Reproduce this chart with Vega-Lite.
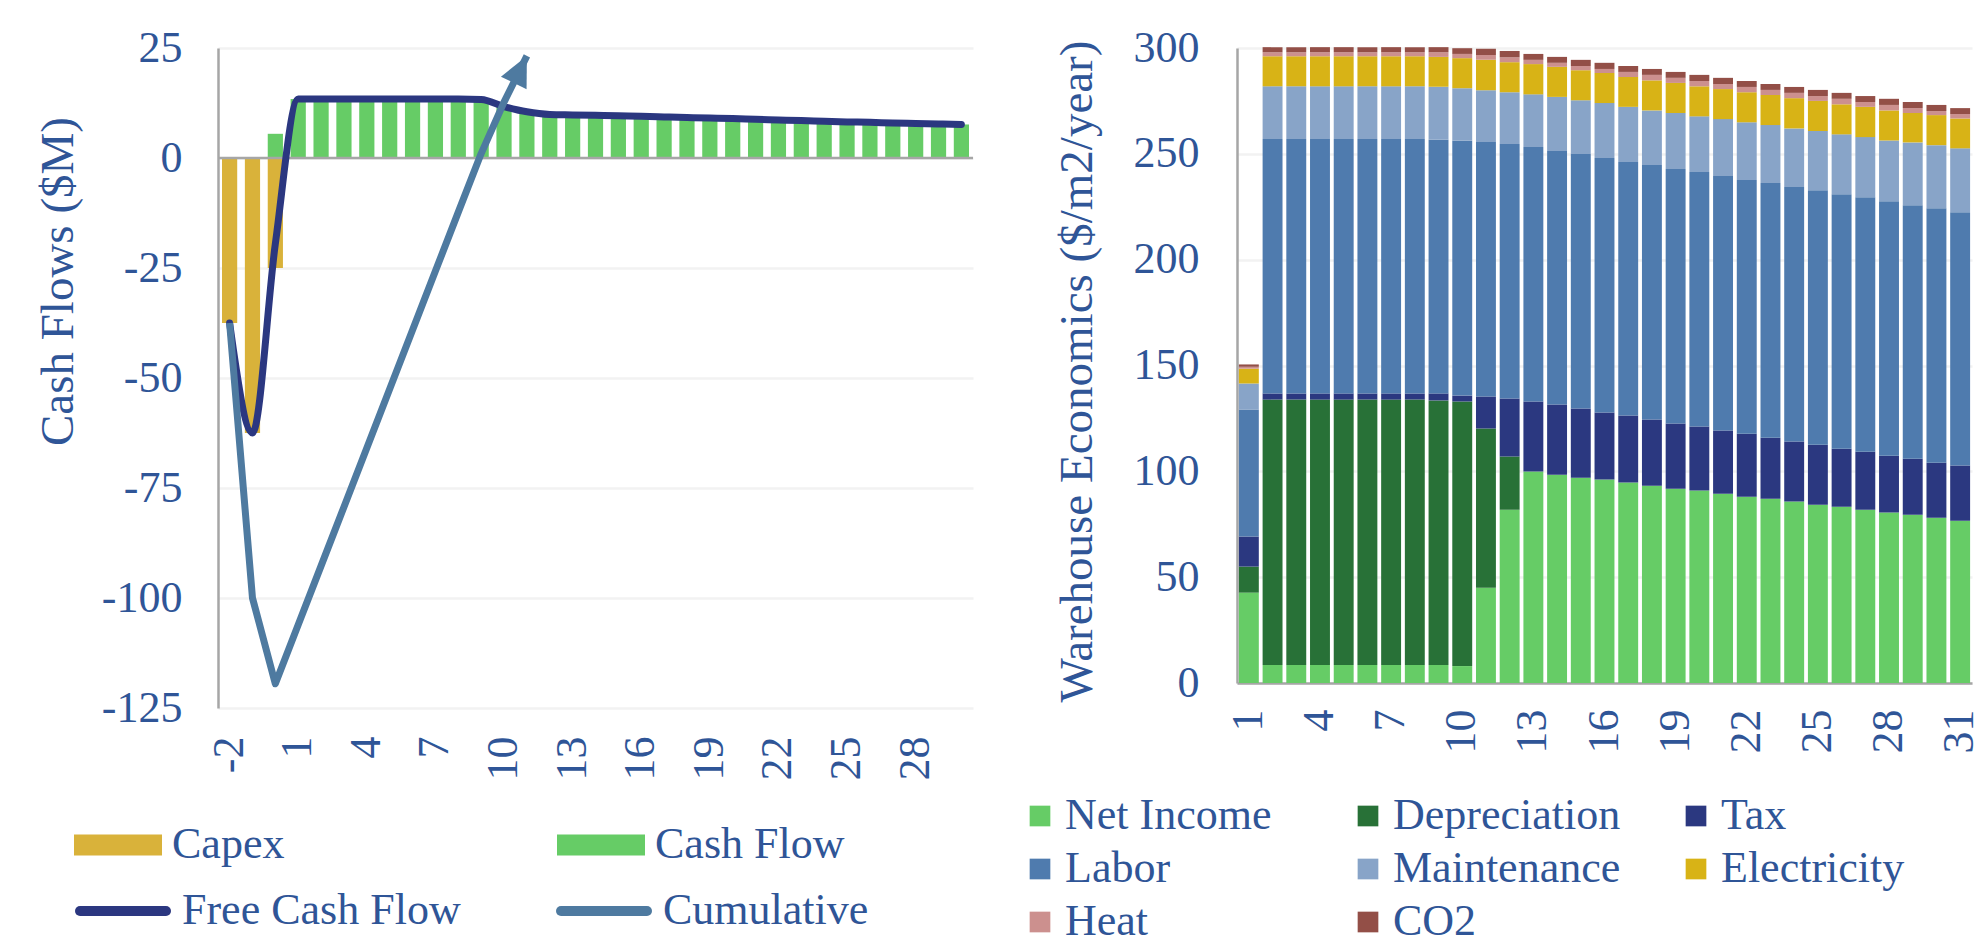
{
"$schema": "https://vega.github.io/schema/vega-lite/v6.json",
"autosize": {"type": "none"},
"padding": {"left": 218, "top": 48, "right": 1767, "bottom": 902},
"background": "white",
"bounds": "flush",
"spacing": 264,
"resolve": {"scale": {"color": "independent", "stroke": "independent"}, "legend": {"color": "independent", "stroke": "independent"}},
"config": {
  "view": {"stroke": null},
  "font": "Liberation Serif",
  "axis": {"labelFont": "Liberation Serif", "labelFontSize": 44, "labelColor": "#2F5597", "titleFont": "Liberation Serif", "titleFontSize": 47, "titleColor": "#2F5597", "titleFontWeight": "normal", "ticks": false, "gridColor": "#F2F2F2", "gridWidth": 2.5, "domainColor": "#A6A6A6", "domainWidth": 2.5},
  "legend": {"labelFont": "Liberation Serif", "labelFontSize": 44, "labelColor": "#2F5597", "padding": 0, "labelLimit": 0}
},
"datasets": {
  "cashbars": [
    {"yr": -2, "s": "Capex", "v": -37.5}, {"yr": -1, "s": "Capex", "v": -62.5}, {"yr": 0, "s": "Capex", "v": -25},
    {"yr": 0, "s": "Cash Flow", "v": 5.5}, {"yr": 1, "s": "Cash Flow", "v": 13.4}, {"yr": 2, "s": "Cash Flow", "v": 13.4}, {"yr": 3, "s": "Cash Flow", "v": 13.4}, {"yr": 4, "s": "Cash Flow", "v": 13.4}, {"yr": 5, "s": "Cash Flow", "v": 13.4}, {"yr": 6, "s": "Cash Flow", "v": 13.4}, {"yr": 7, "s": "Cash Flow", "v": 13.4}, {"yr": 8, "s": "Cash Flow", "v": 13.4}, {"yr": 9, "s": "Cash Flow", "v": 13.3}, {"yr": 10, "s": "Cash Flow", "v": 11.7}, {"yr": 11, "s": "Cash Flow", "v": 10.5}, {"yr": 12, "s": "Cash Flow", "v": 9.9}, {"yr": 13, "s": "Cash Flow", "v": 9.8}, {"yr": 14, "s": "Cash Flow", "v": 9.7}, {"yr": 15, "s": "Cash Flow", "v": 9.58}, {"yr": 16, "s": "Cash Flow", "v": 9.48}, {"yr": 17, "s": "Cash Flow", "v": 9.33}, {"yr": 18, "s": "Cash Flow", "v": 9.19}, {"yr": 19, "s": "Cash Flow", "v": 9.09}, {"yr": 20, "s": "Cash Flow", "v": 8.97}, {"yr": 21, "s": "Cash Flow", "v": 8.8}, {"yr": 22, "s": "Cash Flow", "v": 8.65}, {"yr": 23, "s": "Cash Flow", "v": 8.5}, {"yr": 24, "s": "Cash Flow", "v": 8.33}, {"yr": 25, "s": "Cash Flow", "v": 8.2}, {"yr": 26, "s": "Cash Flow", "v": 8.1}, {"yr": 27, "s": "Cash Flow", "v": 7.95}, {"yr": 28, "s": "Cash Flow", "v": 7.85}, {"yr": 29, "s": "Cash Flow", "v": 7.75}, {"yr": 30, "s": "Cash Flow", "v": 7.62}
  ],
  "cashlines": [
    {"yr": -2, "s": "Free Cash Flow", "v": -37.5}, {"yr": -1, "s": "Free Cash Flow", "v": -62.5}, {"yr": 0, "s": "Free Cash Flow", "v": -19.5}, {"yr": 1, "s": "Free Cash Flow", "v": 13.4}, {"yr": 2, "s": "Free Cash Flow", "v": 13.4}, {"yr": 3, "s": "Free Cash Flow", "v": 13.4}, {"yr": 4, "s": "Free Cash Flow", "v": 13.4}, {"yr": 5, "s": "Free Cash Flow", "v": 13.4}, {"yr": 6, "s": "Free Cash Flow", "v": 13.4}, {"yr": 7, "s": "Free Cash Flow", "v": 13.4}, {"yr": 8, "s": "Free Cash Flow", "v": 13.4}, {"yr": 9, "s": "Free Cash Flow", "v": 13.3}, {"yr": 10, "s": "Free Cash Flow", "v": 11.7}, {"yr": 11, "s": "Free Cash Flow", "v": 10.5}, {"yr": 12, "s": "Free Cash Flow", "v": 9.9}, {"yr": 13, "s": "Free Cash Flow", "v": 9.8}, {"yr": 14, "s": "Free Cash Flow", "v": 9.7}, {"yr": 15, "s": "Free Cash Flow", "v": 9.58}, {"yr": 16, "s": "Free Cash Flow", "v": 9.48}, {"yr": 17, "s": "Free Cash Flow", "v": 9.33}, {"yr": 18, "s": "Free Cash Flow", "v": 9.19}, {"yr": 19, "s": "Free Cash Flow", "v": 9.09}, {"yr": 20, "s": "Free Cash Flow", "v": 8.97}, {"yr": 21, "s": "Free Cash Flow", "v": 8.8}, {"yr": 22, "s": "Free Cash Flow", "v": 8.65}, {"yr": 23, "s": "Free Cash Flow", "v": 8.5}, {"yr": 24, "s": "Free Cash Flow", "v": 8.33}, {"yr": 25, "s": "Free Cash Flow", "v": 8.2}, {"yr": 26, "s": "Free Cash Flow", "v": 8.1}, {"yr": 27, "s": "Free Cash Flow", "v": 7.95}, {"yr": 28, "s": "Free Cash Flow", "v": 7.85}, {"yr": 29, "s": "Free Cash Flow", "v": 7.75}, {"yr": 30, "s": "Free Cash Flow", "v": 7.62},
    {"yr": -2, "s": "Cumulative", "v": -37.5}, {"yr": -1, "s": "Cumulative", "v": -100}, {"yr": 0, "s": "Cumulative", "v": -119.5}, {"yr": 1, "s": "Cumulative", "v": -106.1}, {"yr": 2, "s": "Cumulative", "v": -92.7}, {"yr": 3, "s": "Cumulative", "v": -79.3}, {"yr": 4, "s": "Cumulative", "v": -65.9}, {"yr": 5, "s": "Cumulative", "v": -52.5}, {"yr": 6, "s": "Cumulative", "v": -39.1}, {"yr": 7, "s": "Cumulative", "v": -25.7}, {"yr": 8, "s": "Cumulative", "v": -12.3}, {"yr": 9, "s": "Cumulative", "v": 1.0}, {"yr": 10, "s": "Cumulative", "v": 12.7}, {"yr": 11, "s": "Cumulative", "v": 23.2}
  ],
  "zero": [{"z": 0}],
  "stackorder": [{"s": "Net Income", "k": 1}, {"s": "Depreciation", "k": 2}, {"s": "Tax", "k": 3}, {"s": "Labor", "k": 4}, {"s": "Maintenance", "k": 5}, {"s": "Electricity", "k": 6}, {"s": "Heat", "k": 7}, {"s": "CO2", "k": 8}],
  "econ": [
    {"yr":1,"s":"Net Income","v":42.7},{"yr":1,"s":"Depreciation","v":12.3},{"yr":1,"s":"Tax","v":14.2},{"yr":1,"s":"Labor","v":60.0},{"yr":1,"s":"Maintenance","v":12.3},{"yr":1,"s":"Electricity","v":7.0},{"yr":1,"s":"Heat","v":0.9},{"yr":1,"s":"CO2","v":1.1},
    {"yr":2,"s":"Net Income","v":8.5},{"yr":2,"s":"Depreciation","v":125.4},{"yr":2,"s":"Tax","v":2.9},{"yr":2,"s":"Labor","v":120.2},{"yr":2,"s":"Maintenance","v":24.9},{"yr":2,"s":"Electricity","v":14.2},{"yr":2,"s":"Heat","v":1.9},{"yr":2,"s":"CO2","v":2.4},
    {"yr":3,"s":"Net Income","v":8.5},{"yr":3,"s":"Depreciation","v":125.4},{"yr":3,"s":"Tax","v":2.9},{"yr":3,"s":"Labor","v":120.2},{"yr":3,"s":"Maintenance","v":24.9},{"yr":3,"s":"Electricity","v":14.2},{"yr":3,"s":"Heat","v":1.9},{"yr":3,"s":"CO2","v":2.4},
    {"yr":4,"s":"Net Income","v":8.5},{"yr":4,"s":"Depreciation","v":125.4},{"yr":4,"s":"Tax","v":2.9},{"yr":4,"s":"Labor","v":120.2},{"yr":4,"s":"Maintenance","v":24.9},{"yr":4,"s":"Electricity","v":14.2},{"yr":4,"s":"Heat","v":1.9},{"yr":4,"s":"CO2","v":2.4},
    {"yr":5,"s":"Net Income","v":8.5},{"yr":5,"s":"Depreciation","v":125.4},{"yr":5,"s":"Tax","v":2.9},{"yr":5,"s":"Labor","v":120.2},{"yr":5,"s":"Maintenance","v":24.9},{"yr":5,"s":"Electricity","v":14.2},{"yr":5,"s":"Heat","v":1.9},{"yr":5,"s":"CO2","v":2.4},
    {"yr":6,"s":"Net Income","v":8.5},{"yr":6,"s":"Depreciation","v":125.4},{"yr":6,"s":"Tax","v":2.9},{"yr":6,"s":"Labor","v":120.2},{"yr":6,"s":"Maintenance","v":24.9},{"yr":6,"s":"Electricity","v":14.2},{"yr":6,"s":"Heat","v":1.9},{"yr":6,"s":"CO2","v":2.4},
    {"yr":7,"s":"Net Income","v":8.5},{"yr":7,"s":"Depreciation","v":125.4},{"yr":7,"s":"Tax","v":2.9},{"yr":7,"s":"Labor","v":120.2},{"yr":7,"s":"Maintenance","v":24.9},{"yr":7,"s":"Electricity","v":14.2},{"yr":7,"s":"Heat","v":1.9},{"yr":7,"s":"CO2","v":2.4},
    {"yr":8,"s":"Net Income","v":8.5},{"yr":8,"s":"Depreciation","v":125.4},{"yr":8,"s":"Tax","v":2.9},{"yr":8,"s":"Labor","v":120.2},{"yr":8,"s":"Maintenance","v":24.9},{"yr":8,"s":"Electricity","v":14.2},{"yr":8,"s":"Heat","v":1.9},{"yr":8,"s":"CO2","v":2.4},
    {"yr":9,"s":"Net Income","v":8.5},{"yr":9,"s":"Depreciation","v":125.0},{"yr":9,"s":"Tax","v":3.3},{"yr":9,"s":"Labor","v":119.8},{"yr":9,"s":"Maintenance","v":25.1},{"yr":9,"s":"Electricity","v":14.1},{"yr":9,"s":"Heat","v":2.2},{"yr":9,"s":"CO2","v":2.4},
    {"yr":10,"s":"Net Income","v":8.0},{"yr":10,"s":"Depreciation","v":125.0},{"yr":10,"s":"Tax","v":2.8},{"yr":10,"s":"Labor","v":120.4},{"yr":10,"s":"Maintenance","v":24.8},{"yr":10,"s":"Electricity","v":14.2},{"yr":10,"s":"Heat","v":2.0},{"yr":10,"s":"CO2","v":2.7},
    {"yr":11,"s":"Net Income","v":45.0},{"yr":11,"s":"Depreciation","v":75.2},{"yr":11,"s":"Tax","v":15.2},{"yr":11,"s":"Labor","v":120.2},{"yr":11,"s":"Maintenance","v":24.4},{"yr":11,"s":"Electricity","v":14.4},{"yr":11,"s":"Heat","v":2.3},{"yr":11,"s":"CO2","v":2.9},
    {"yr":12,"s":"Net Income","v":81.9},{"yr":12,"s":"Depreciation","v":25.1},{"yr":12,"s":"Tax","v":27.4},{"yr":12,"s":"Labor","v":120.2},{"yr":12,"s":"Maintenance","v":24.5},{"yr":12,"s":"Electricity","v":14.2},{"yr":12,"s":"Heat","v":2.3},{"yr":12,"s":"CO2","v":3.0},
    {"yr":13,"s":"Net Income","v":99.9},{"yr":13,"s":"Tax","v":33.1},{"yr":13,"s":"Labor","v":120.2},{"yr":13,"s":"Maintenance","v":24.9},{"yr":13,"s":"Electricity","v":14.3},{"yr":13,"s":"Heat","v":2.0},{"yr":13,"s":"CO2","v":2.8},
    {"yr":14,"s":"Net Income","v":98.4},{"yr":14,"s":"Tax","v":33.2},{"yr":14,"s":"Labor","v":119.7},{"yr":14,"s":"Maintenance","v":25.6},{"yr":14,"s":"Electricity","v":14.2},{"yr":14,"s":"Heat","v":1.9},{"yr":14,"s":"CO2","v":2.8},
    {"yr":15,"s":"Net Income","v":97.0},{"yr":15,"s":"Tax","v":32.7},{"yr":15,"s":"Labor","v":120.2},{"yr":15,"s":"Maintenance","v":25.4},{"yr":15,"s":"Electricity","v":14.2},{"yr":15,"s":"Heat","v":2.0},{"yr":15,"s":"CO2","v":2.9},
    {"yr":16,"s":"Net Income","v":96.1},{"yr":16,"s":"Tax","v":31.7},{"yr":16,"s":"Labor","v":120.2},{"yr":16,"s":"Maintenance","v":26.0},{"yr":16,"s":"Electricity","v":14.2},{"yr":16,"s":"Heat","v":1.9},{"yr":16,"s":"CO2","v":2.9},
    {"yr":17,"s":"Net Income","v":94.7},{"yr":17,"s":"Tax","v":31.7},{"yr":17,"s":"Labor","v":119.7},{"yr":17,"s":"Maintenance","v":26.1},{"yr":17,"s":"Electricity","v":14.1},{"yr":17,"s":"Heat","v":2.4},{"yr":17,"s":"CO2","v":2.8},
    {"yr":18,"s":"Net Income","v":93.2},{"yr":18,"s":"Tax","v":31.3},{"yr":18,"s":"Labor","v":120.2},{"yr":18,"s":"Maintenance","v":25.8},{"yr":18,"s":"Electricity","v":14.2},{"yr":18,"s":"Heat","v":2.6},{"yr":18,"s":"CO2","v":2.8},
    {"yr":19,"s":"Net Income","v":91.8},{"yr":19,"s":"Tax","v":30.8},{"yr":19,"s":"Labor","v":120.2},{"yr":19,"s":"Maintenance","v":26.5},{"yr":19,"s":"Electricity","v":14.2},{"yr":19,"s":"Heat","v":2.4},{"yr":19,"s":"CO2","v":2.8},
    {"yr":20,"s":"Net Income","v":90.9},{"yr":20,"s":"Tax","v":30.3},{"yr":20,"s":"Labor","v":120.2},{"yr":20,"s":"Maintenance","v":26.3},{"yr":20,"s":"Electricity","v":14.2},{"yr":20,"s":"Heat","v":2.5},{"yr":20,"s":"CO2","v":2.9},
    {"yr":21,"s":"Net Income","v":89.4},{"yr":21,"s":"Tax","v":29.9},{"yr":21,"s":"Labor","v":120.2},{"yr":21,"s":"Maintenance","v":26.9},{"yr":21,"s":"Electricity","v":14.2},{"yr":21,"s":"Heat","v":2.4},{"yr":21,"s":"CO2","v":2.9},
    {"yr":22,"s":"Net Income","v":88.0},{"yr":22,"s":"Tax","v":29.8},{"yr":22,"s":"Labor","v":119.8},{"yr":22,"s":"Maintenance","v":27.3},{"yr":22,"s":"Electricity","v":14.2},{"yr":22,"s":"Heat","v":2.5},{"yr":22,"s":"CO2","v":2.8},
    {"yr":23,"s":"Net Income","v":87.1},{"yr":23,"s":"Tax","v":28.8},{"yr":23,"s":"Labor","v":120.3},{"yr":23,"s":"Maintenance","v":27.4},{"yr":23,"s":"Electricity","v":14.2},{"yr":23,"s":"Heat","v":2.4},{"yr":23,"s":"CO2","v":2.8},
    {"yr":24,"s":"Net Income","v":85.7},{"yr":24,"s":"Tax","v":28.4},{"yr":24,"s":"Labor","v":120.2},{"yr":24,"s":"Maintenance","v":27.7},{"yr":24,"s":"Electricity","v":14.3},{"yr":24,"s":"Heat","v":2.5},{"yr":24,"s":"CO2","v":2.8},
    {"yr":25,"s":"Net Income","v":84.2},{"yr":25,"s":"Tax","v":28.4},{"yr":25,"s":"Labor","v":120.2},{"yr":25,"s":"Maintenance","v":28.0},{"yr":25,"s":"Electricity","v":14.2},{"yr":25,"s":"Heat","v":2.3},{"yr":25,"s":"CO2","v":2.9},
    {"yr":26,"s":"Net Income","v":83.3},{"yr":26,"s":"Tax","v":27.4},{"yr":26,"s":"Labor","v":120.2},{"yr":26,"s":"Maintenance","v":28.3},{"yr":26,"s":"Electricity","v":14.2},{"yr":26,"s":"Heat","v":2.6},{"yr":26,"s":"CO2","v":2.8},
    {"yr":27,"s":"Net Income","v":81.9},{"yr":27,"s":"Tax","v":27.4},{"yr":27,"s":"Labor","v":120.2},{"yr":27,"s":"Maintenance","v":28.4},{"yr":27,"s":"Electricity","v":14.3},{"yr":27,"s":"Heat","v":2.3},{"yr":27,"s":"CO2","v":2.8},
    {"yr":28,"s":"Net Income","v":80.5},{"yr":28,"s":"Tax","v":26.9},{"yr":28,"s":"Labor","v":120.2},{"yr":28,"s":"Maintenance","v":28.7},{"yr":28,"s":"Electricity","v":14.2},{"yr":28,"s":"Heat","v":2.6},{"yr":28,"s":"CO2","v":2.9},
    {"yr":29,"s":"Net Income","v":79.5},{"yr":29,"s":"Tax","v":26.5},{"yr":29,"s":"Labor","v":119.7},{"yr":29,"s":"Maintenance","v":29.7},{"yr":29,"s":"Electricity","v":13.9},{"yr":29,"s":"Heat","v":2.3},{"yr":29,"s":"CO2","v":2.9},
    {"yr":30,"s":"Net Income","v":78.1},{"yr":30,"s":"Tax","v":26.0},{"yr":30,"s":"Labor","v":120.2},{"yr":30,"s":"Maintenance","v":29.8},{"yr":30,"s":"Electricity","v":14.2},{"yr":30,"s":"Heat","v":1.9},{"yr":30,"s":"CO2","v":2.9},
    {"yr":31,"s":"Net Income","v":76.7},{"yr":31,"s":"Tax","v":26.0},{"yr":31,"s":"Labor","v":119.7},{"yr":31,"s":"Maintenance","v":30.2},{"yr":31,"s":"Electricity","v":14.1},{"yr":31,"s":"Heat","v":2.1},{"yr":31,"s":"CO2","v":2.8}
  ]
},
"hconcat": [
  {
    "width": 755,
    "height": 660,
    "layer": [
      {
        "data": {"name": "cashbars"},
        "mark": {"type": "bar"},
        "encoding": {
          "x": {"field": "yr", "type": "ordinal",
                "scale": {"domain": [-2,-1,0,1,2,3,4,5,6,7,8,9,10,11,12,13,14,15,16,17,18,19,20,21,22,23,24,25,26,27,28,29,30], "paddingInner": 0.335, "paddingOuter": 0.175},
                "axis": {"title": null, "values": [-2,1,4,7,10,13,16,19,22,25,28], "labelExpr": "'' + datum.value", "labelAngle": -90, "labelPadding": 28, "domain": false, "grid": false}},
          "y": {"field": "v", "type": "quantitative", "stack": "zero",
                "scale": {"domain": [-125, 25], "nice": false},
                "axis": {"title": "Cash Flows ($M)", "values": [-125,-100,-75,-50,-25,0,25], "labelExpr": "'' + datum.value", "labelPadding": 36, "grid": true, "domain": true,
                         "titleX": -160, "titleY": 233, "titleAngle": 270, "titleAlign": "center", "titleBaseline": "middle"}},
          "color": {"field": "s", "type": "nominal",
                    "scale": {"domain": ["Capex", "Cash Flow"], "range": ["#D9B23A", "#66CC66"]},
                    "legend": {"title": null, "orient": "none", "legendX": -144, "legendY": 753, "direction": "horizontal", "columns": 2, "columnPadding": 272,
                               "symbolType": "M-1,-0.2386L1,-0.2386L1,0.2386L-1,0.2386Z", "symbolSize": 7744, "symbolStrokeWidth": 0, "labelOffset": 10}}
        }
      },
      {
        "data": {"name": "zero"},
        "mark": {"type": "rule", "color": "#A6A6A6", "strokeWidth": 2.5},
        "encoding": {"y": {"field": "z", "type": "quantitative"}}
      },
      {
        "data": {"name": "cashlines"},
        "transform": [{"filter": "datum.s === 'Free Cash Flow'"}],
        "mark": {"type": "line", "interpolate": "monotone", "strokeWidth": 7, "strokeCap": "round", "strokeJoin": "round"},
        "encoding": {
          "x": {"field": "yr", "type": "ordinal"},
          "y": {"field": "v", "type": "quantitative"},
          "stroke": {"field": "s", "type": "nominal",
                     "scale": {"domain": ["Free Cash Flow", "Cumulative"], "range": ["#2B3780", "#4E7AA0"]},
                     "legend": {"title": null, "orient": "none", "legendX": -143, "legendY": 815, "direction": "horizontal", "columns": 2, "columnPadding": 80,
                                "symbolType": "stroke", "symbolSize": 7396, "symbolStrokeWidth": 10, "labelOffset": 11,
                                "encode": {"symbols": {"update": {"strokeCap": {"value": "round"}}}}}}
        }
      },
      {
        "data": {"name": "cashlines"},
        "transform": [{"filter": "datum.s === 'Cumulative'"}],
        "mark": {"type": "line", "strokeWidth": 7, "strokeCap": "butt", "strokeJoin": "round"},
        "encoding": {
          "x": {"field": "yr", "type": "ordinal"},
          "y": {"field": "v", "type": "quantitative"},
          "stroke": {"field": "s", "type": "nominal"}
        }
      },
      {
        "data": {"name": "cashlines"},
        "transform": [{"filter": "datum.s === 'Cumulative' && datum.yr === 11"}],
        "mark": {"type": "point", "shape": "M0,0L0.95,2L-0.95,2Z", "filled": true, "size": 900, "angle": 26, "color": "#4E7AA0", "opacity": 1, "strokeWidth": 0},
        "encoding": {
          "x": {"field": "yr", "type": "ordinal"},
          "y": {"field": "v", "type": "quantitative"}
        }
      }
    ]
  },
  {
    "width": 735,
    "height": 635,
    "data": {"name": "econ"},
    "transform": [{"lookup": "s", "from": {"data": {"name": "stackorder"}, "key": "s", "fields": ["k"]}}],
    "mark": {"type": "bar"},
    "encoding": {
      "x": {"field": "yr", "type": "ordinal",
            "scale": {"paddingInner": 0.16, "paddingOuter": 0.08},
            "axis": {"title": null, "values": [1,4,7,10,13,16,19,22,25,28,31], "labelAngle": -90, "labelPadding": 26, "domain": true, "grid": false}},
      "y": {"field": "v", "type": "quantitative", "stack": "zero",
            "scale": {"domain": [0, 300], "nice": false},
            "axis": {"title": "Warehouse Economics ($/m2/year)", "values": [0,50,100,150,200,250,300], "labelPadding": 38, "grid": true, "domain": true,
                     "titleX": -160, "titleY": 323, "titleAngle": 270, "titleAlign": "center", "titleBaseline": "middle"}},
      "order": {"field": "k", "type": "quantitative", "sort": "ascending"},
      "color": {"field": "s", "type": "nominal",
                "scale": {"domain": ["Net Income", "Depreciation", "Tax", "Labor", "Maintenance", "Electricity", "Heat", "CO2"],
                          "range": ["#66CC66", "#287137", "#2B3880", "#4F7BAE", "#88A4C8", "#D8B316", "#CC908E", "#934F47"]},
                "legend": {"title": null, "orient": "none", "legendX": -219, "legendY": 746, "direction": "horizontal", "columns": 3, "gridAlign": "all",
                           "columnPadding": 53, "rowPadding": 9, "symbolType": "square", "symbolSize": 428, "symbolStrokeWidth": 0, "labelOffset": 3}}
    }
  }
]
}
